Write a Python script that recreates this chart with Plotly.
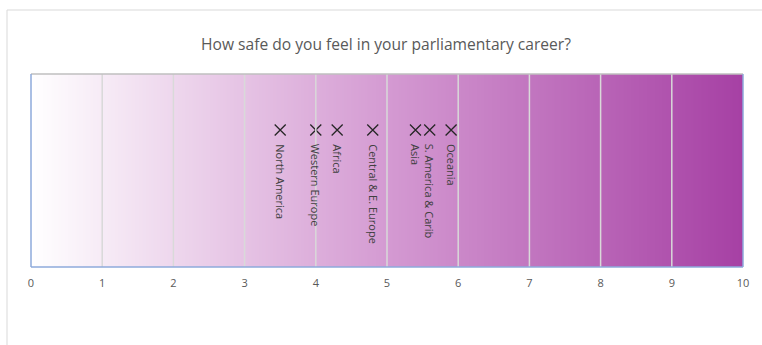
import numpy as np
import plotly.graph_objects as go

# Regions and their average "feeling safe" score (0-10 scale)
regions = ["North America", "Western Europe", "Africa", "Central & E. Europe",
           "Asia", "S. America & Carib", "Oceania"]
scores = [3.5, 4.0, 4.3, 4.8, 5.4, 5.6, 5.9]
marker_level = 0.71  # vertical position of the markers inside the band

tick_values = list(range(0, 11))
tick_labels = [str(v) for v in tick_values]

FONT = "Open Sans"
GREY_TEXT = "#595959"

fig = go.Figure()

# Background gradient band: white at 0 to purple at 10
grad_x = np.linspace(0, 10, 401)
fig.add_trace(go.Heatmap(
    x=grad_x, y=[0, 1], z=[grad_x, grad_x],
    colorscale=[[0, "#FFFFFF"], [0.5, "#D49AD2"], [1, "#A640A4"]],
    zmin=0, zmax=10, showscale=False, hoverinfo="skip", zsmooth="best",
))

# Region markers
fig.add_trace(go.Scatter(
    x=scores, y=[marker_level] * len(scores), mode="markers",
    marker=dict(symbol="x-thin-open", size=11, color="#262626",
                line=dict(width=1.3, color="#262626")),
    hoverinfo="skip", showlegend=False,
))

# Rotated region labels below each marker
for name, s in zip(regions, scores):
    fig.add_annotation(
        x=s, y=marker_level, xref="x", yref="y", text=name, showarrow=False,
        textangle=90, xanchor="center", yanchor="top", yshift=-12,
        font=dict(family=FONT, size=11, color="#404040"),
    )

shapes = []
# Vertical gridlines at each integer
for v in tick_values[1:-1]:
    shapes.append(dict(type="line", xref="x", yref="paper", x0=v, x1=v, y0=0, y1=1,
                       line=dict(color="#D9D9D9", width=1.5), layer="above"))
# Plot frame: grey top, blue left/right/bottom
shapes.append(dict(type="line", xref="paper", yref="paper", x0=0, x1=1, y0=1, y1=1,
                   line=dict(color="#BFBFBF", width=1.5), layer="above"))
for x0, y0, x1, y1 in [(0, 0, 0, 1), (1, 0, 1, 1), (0, 0, 1, 0)]:
    shapes.append(dict(type="line", xref="paper", yref="paper", x0=x0, x1=x1, y0=y0, y1=y1,
                       line=dict(color="#8EAADB", width=1.5), layer="above"))
# Outer chart border
shapes.append(dict(type="line", xref="paper", yref="paper", x0=-0.0337, x1=1.1, y0=1.3316, y1=1.3316,
                   line=dict(color="#D9D9D9", width=1)))
shapes.append(dict(type="line", xref="paper", yref="paper", x0=-0.0337, x1=-0.0337, y0=-0.5, y1=1.3316,
                   line=dict(color="#D9D9D9", width=1)))

fig.update_layout(
    width=762, height=345,
    margin=dict(l=31, r=19, t=74, b=78),
    paper_bgcolor="white", plot_bgcolor="white",
    title=dict(text="How safe do you feel in your parliamentary career?",
               x=386 / 762, xanchor="center",
               y=1 - 45 / 345, yanchor="middle",
               font=dict(family=FONT, size=15.6, color=GREY_TEXT)),
    xaxis=dict(range=[0, 10], tickvals=tick_values, ticktext=tick_labels,
               showgrid=False, zeroline=False, showline=False, ticks="",
               tickfont=dict(family=FONT, size=11, color=GREY_TEXT),
               ticklabelstandoff=8, fixedrange=True),
    yaxis=dict(range=[0, 1], visible=False, fixedrange=True),
    shapes=shapes,
    showlegend=False,
)

fig.write_html("out.html")
